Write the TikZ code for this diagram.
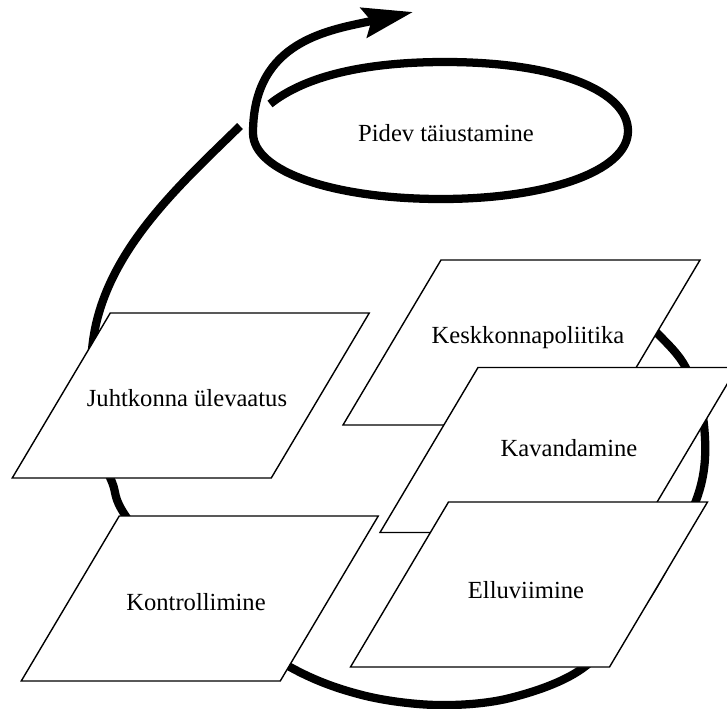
\documentclass[tikz,border=0pt]{standalone}
\usepackage{fontspec}
\setmainfont{Liberation Serif}
\usetikzlibrary{arrows.meta}

\tikzset{flow/.style={line width=4.7pt, line cap=butt}}

\begin{document}
\begin{tikzpicture}
        [
            x=0.02cm, y=-0.02cm,
            box/.style={draw=black, fill=white, line width=0.8pt},
            lbl/.style={font=\fontsize{14}{16}\selectfont, inner sep=0pt},
        ]
    \useasboundingbox (0,0) rectangle (727,708);

    % big loop, behind the boxes
    \draw[flow] plot[smooth, tension=0.55] coordinates {
        (622,302) (657,333) (686,368) (704,425) (698,495) (645,600)
        (583,668) (510,698) (437,705) (362,695) (290,667) (190,600)
        (125,515) (112,482) (94,440) (88,400) (92,350)}
        .. controls (100,255) and (180,185) .. (240,126);

    % small loop with the arrow
    \draw[flow, -{Stealth[length=1cm, width=0.6cm, inset=0.15cm]}]
        (270,104) .. controls (305,76) and (365,62) .. (445,62)
        .. controls (560,62) and (628,92) .. (628,131)
        .. controls (628,172) and (545,199) .. (441,199)
        .. controls (335,199) and (253,172) .. (253,133)
        .. controls (253,40) and (330,30) .. (413,12);
    \node[lbl] (pidev) at (446,133) {Pidev täiustamine};

    \foreach \cx/\cy/\tx/\ty/\nm/\txt in {
        190.75/395.5/187/398/juhtkond/Juhtkonna ülevaatus,
        521.5/342.5/528/338/poliitika/Keskkonnapoliitika,
        558.5/450/569/448/kavand/Kavandamine,
        529/584.5/526/590/ellu/Elluviimine,
        199.75/598.5/196/602/kontroll/Kontrollimine}{
        \draw[box] (\cx-178.5,\cy+82.5) -- ++(259,0) -- ++(98,-165) -- ++(-259,0) -- cycle;
        \node[lbl] (\nm) at (\tx,\ty) {\txt};
    }
\end{tikzpicture}
\end{document}
